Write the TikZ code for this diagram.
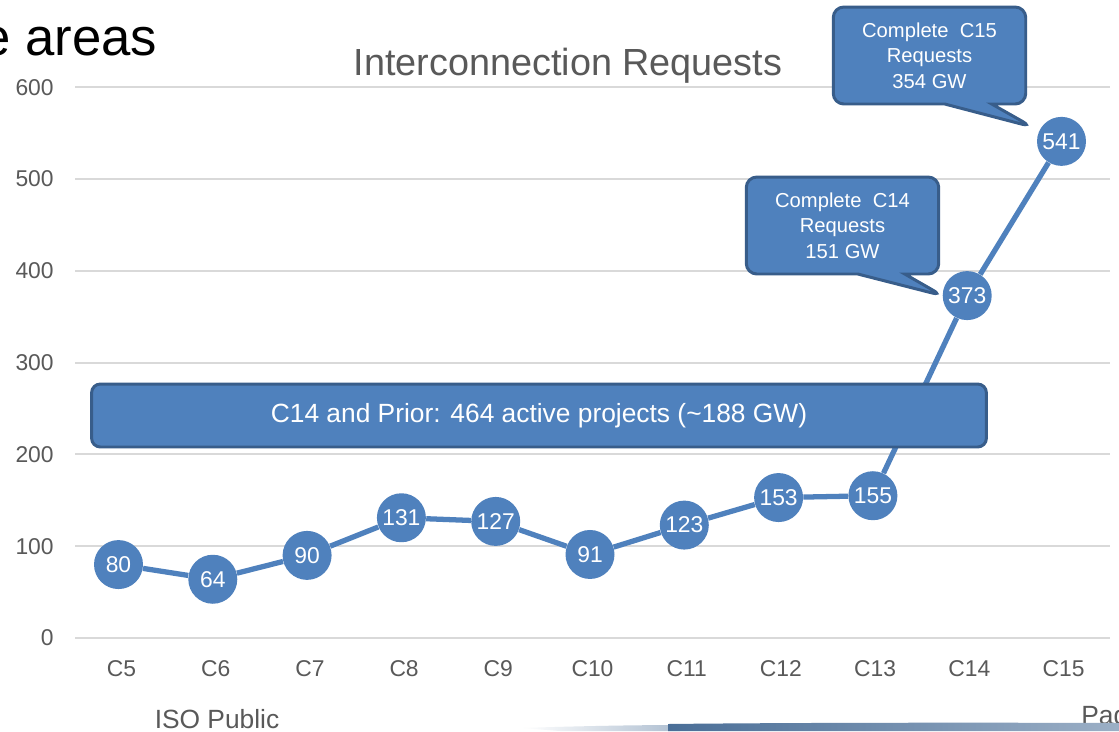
\documentclass[tikz,border=0pt]{standalone}
\usepackage{fontspec}
\setmainfont{Liberation Sans}
\usetikzlibrary{shapes.callouts, positioning}

\definecolor{serieblue}{HTML}{4F81BD}
\definecolor{edgeblue}{HTML}{385D8A}
\definecolor{gridgray}{HTML}{D9D9D9}
\definecolor{labelgray}{HTML}{595959}
\definecolor{swooshblue}{HTML}{4A6E97}

\begin{document}
\begin{tikzpicture}[
    x=0.02cm, y=-0.02cm,
    grid/.style={draw=gridgray, line width=1.1pt},
    ticklabel/.style={text=labelgray, inner sep=0pt, font=\fontsize{13}{15}\selectfont},
    dot/.style={circle, fill=serieblue, minimum size=0.98cm, inner sep=0pt,
                text=white, font=\fontsize{13}{15}\selectfont},
    series/.style={draw=serieblue, line width=3pt},
    banner/.style={rectangle, rounded corners=5pt, fill=serieblue, draw=edgeblue, line width=1.7pt,
                   minimum width=17.9cm, minimum height=1.26cm, text=white,
                   font=\fontsize{15}{18}\selectfont},
    bubble/.style={rectangle callout, rounded corners=6pt, fill=serieblue, draw=edgeblue, line width=1.7pt,
                   minimum width=3.85cm, minimum height=1.94cm, inner sep=2pt, text=white, align=center,
                   callout pointer width=0.94cm, font=\fontsize{11.5}{14.5}\selectfont}
]
\useasboundingbox[fill=white] (0,0) rectangle (1119,731);

% slide leftovers
\node[anchor=base west, inner sep=0pt, font=\fontsize{30}{34}\selectfont] (heading) at (-19,55) {e areas};
\node[anchor=base, inner sep=0pt, text=labelgray, font=\fontsize{21.5}{25}\selectfont] (title) at (568,75) {Interconnection Requests};

% grid and axis labels
\foreach \v in {0,100,...,600} {
  \draw[grid] (75,{638-0.918*\v}) -- (1110,{638-0.918*\v});
  \node[ticklabel, anchor=east] (y\v) at (54,{638-0.918*\v}) {\v};
}
\foreach \c [count=\i from 0] in {C5,C6,C7,C8,C9,C10,C11,C12,C13,C14,C15}
  \node[ticklabel] (x\i) at ({121.5+94.2*\i},668.5) {\c};

% data points
\foreach \v [count=\i from 0] in {80,64,90,131,127,91,123,153,155,373,541}
  \node[dot] (p\i) at ({118.5+94.3*\i},{638-0.918*\v}) {\v};
\foreach \i in {0,...,9} {
  \pgfmathtruncatemacro\j{\i+1}
  \draw[series] (p\i) -- (p\j);
}

% notes
\node[banner] (prior) at (539,415.5) {C14 and Prior: 464 active projects (\textasciitilde188 GW)};
\node[bubble, callout absolute pointer={(p9.west)}] (c14) at (842.5,225.5) {Complete~~C14\\Requests\\151 GW};
\node[bubble, callout absolute pointer={([shift={(-12,3)}]p10.north west)}] (c15) at (929.5,55.5) {Complete~~C15\\Requests\\354 GW};

% footer
\node[anchor=base, inner sep=0pt, text=labelgray, font=\fontsize{15}{18}\selectfont] (footer) at (217,728.5) {ISO Public};
\node[anchor=base west, inner sep=0pt, text=labelgray, font=\fontsize{15}{18}\selectfont] (page) at (1081,724) {Pag};
\shade[left color=white, right color=swooshblue!45] (522,728) .. controls (580,726) and (640,725) .. (680,725) -- (680,731) -- (560,731) -- cycle;
\shade[left color=swooshblue, right color=swooshblue!55] (668,724) .. controls (800,722.5) and (1000,722.5) .. (1119,723) -- (1119,731) -- (668,731) -- cycle;
\end{tikzpicture}
\end{document}
